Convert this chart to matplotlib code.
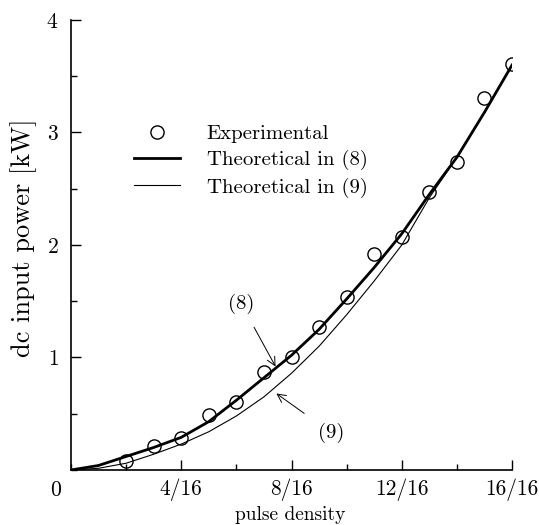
import matplotlib
matplotlib.use('Agg')
import matplotlib.pyplot as plt
from matplotlib.ticker import MultipleLocator, FixedLocator
from matplotlib.lines import Line2D

plt.rcParams['font.family'] = 'cmr10'
plt.rcParams['axes.formatter.use_mathtext'] = True
plt.rcParams['mathtext.fontset'] = 'cm'

# pulse density in sixteenths
exp_n = [2, 3, 4, 5, 6, 7, 8, 9, 10, 11, 12, 13, 14, 15, 16]
exp_kw = [0.08, 0.21, 0.28, 0.49, 0.60, 0.87, 1.00, 1.27, 1.54, 1.92, 2.07, 2.47, 2.74, 3.31, 3.61]

theo_n = [0, 1, 2, 3, 4, 5, 6, 7, 8, 9, 10, 11, 12, 13, 14, 15, 16]
theo8_kw = [0, 0.04, 0.12, 0.20, 0.29, 0.43, 0.62, 0.82, 1.02, 1.25, 1.52, 1.80, 2.10, 2.45, 2.78, 3.18, 3.60]
theo9_kw = [0, 0.015, 0.06, 0.14, 0.23, 0.34, 0.48, 0.65, 0.86, 1.10, 1.38, 1.68, 2.00, 2.42, 2.78, 3.18, 3.60]

xtick_vals = [4, 8, 12, 16]
xtick_labels = ['4/16', '8/16', '12/16', '16/16']
ytick_vals = [1, 2, 3, 4]

fig = plt.figure(figsize=(5.39, 5.25), dpi=100)
ax = fig.add_axes([0.1317, 0.1048, 0.95 - 0.1317, 0.9619 - 0.1048])

x_exp = [n / 16 for n in exp_n]
x_theo = [n / 16 for n in theo_n]

ax.plot(x_theo, theo8_kw, color='black', lw=2.0)
ax.plot(x_theo, theo9_kw, color='black', lw=0.8)
ax.plot(x_exp, exp_kw, 'o', mfc='none', mec='black', ms=9.5, mew=1.0)

ax.set_xlim(0, 1)
ax.set_ylim(0, 4)
ax.spines['top'].set_visible(False)
ax.spines['right'].set_visible(False)
for s in ['left', 'bottom']:
    ax.spines[s].set_linewidth(1.2)

ax.xaxis.set_major_locator(FixedLocator([v / 16 for v in xtick_vals]))
ax.set_xticklabels(xtick_labels)
ax.xaxis.set_minor_locator(MultipleLocator(2 / 16))
ax.yaxis.set_major_locator(FixedLocator(ytick_vals))
ax.yaxis.set_minor_locator(MultipleLocator(0.5))
ax.tick_params(which='both', direction='in', labelsize=15.5, width=1.0)
ax.tick_params(which='major', length=7)
ax.tick_params(which='minor', length=4)
ax.tick_params(axis='x', pad=6)
ax.tick_params(axis='y', pad=9)

# origin label
ax.text(-0.034, -0.044, '0', fontsize=15.5, ha='center', va='center',
        transform=ax.transAxes)

ax.set_xlabel('pulse density', fontsize=14, va='center')
ax.xaxis.set_label_coords(0.497, -0.1)
ax.set_ylabel('dc input power [kW]', fontsize=19)
ax.yaxis.set_label_coords(-0.077, 0.516)

handles = [
    Line2D([], [], marker='o', ls='none', mfc='none', mec='black', ms=9.5, mew=1.0),
    Line2D([], [], color='black', lw=2.0),
    Line2D([], [], color='black', lw=0.8),
]
ax.legend(handles, ['Experimental', 'Theoretical in (8)', 'Theoretical in (9)'],
          loc='upper left', bbox_to_anchor=(0.10, 0.81), frameon=False,
          fontsize=15, handlelength=2.2, labelspacing=0.35, handletextpad=1.3)

ax.annotate('(8)', xy=(7.42 / 16, 0.92), xytext=(6.17 / 16, 1.48),
            fontsize=15, ha='center', va='center',
            arrowprops=dict(arrowstyle='->', lw=0.7, color='black',
                            shrinkA=9, shrinkB=0))
ax.annotate('(9)', xy=(7.45 / 16, 0.68), xytext=(9.45 / 16, 0.33),
            fontsize=15, ha='center', va='center',
            arrowprops=dict(arrowstyle='->', lw=0.7, color='black',
                            shrinkA=10, shrinkB=0))

fig.savefig('out.png', dpi=100)
